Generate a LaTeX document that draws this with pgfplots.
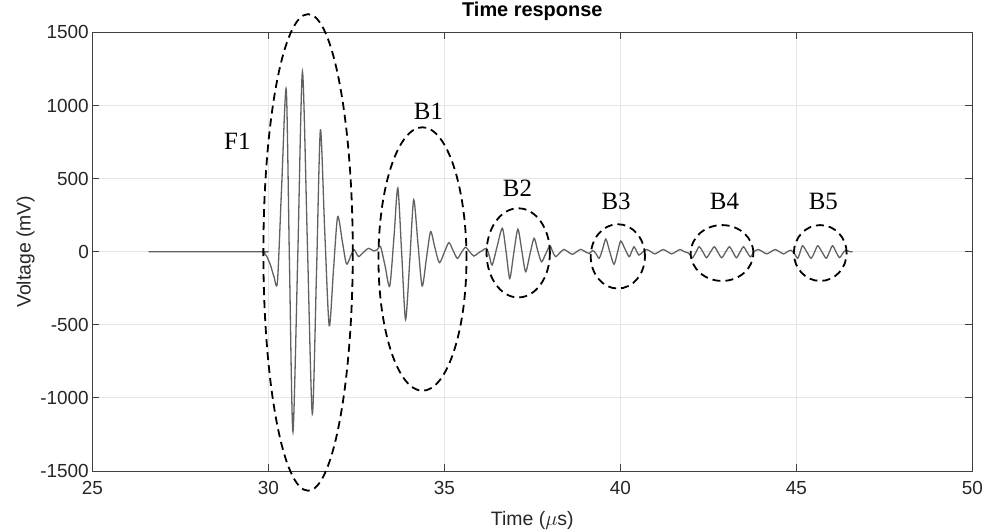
\documentclass[border=0pt]{standalone}
\usepackage{fontspec}
\setmainfont{Liberation Sans}
\newfontfamily\labfont{Liberation Serif}
\usepackage{pgfplots}
\pgfplotsset{compat=1.18}
\definecolor{axgray}{gray}{0.25}
\definecolor{gridgray}{gray}{0.90}
\definecolor{sig}{gray}{0.38}
\begin{document}
\begin{tikzpicture}
\path[use as bounding box] (0bp,0bp) rectangle (983bp,532bp);
\begin{axis}[
  at={(92.3bp,61bp)}, anchor=south west,
  width=880bp, height=438.6bp, scale only axis,
  xmin=25, xmax=50, ymin=-1500, ymax=1500,
  xtick={25,30,35,40,45,50},
  ytick={-1500,-1000,-500,0,500,1000,1500},
  /pgf/number format/assume math mode=true,
  /pgf/number format/1000 sep={},
  tick align=inside,
  major tick length=7bp,
  tick style={axgray, line width=0.8bp},
  axis line style={axgray, line width=0.9bp},
  grid=major,
  grid style={gridgray, line width=0.8bp},
  ticklabel style={font=\fontsize{19}{22}\selectfont, text=black!85},
  xticklabel style={yshift=-7bp},
  xlabel={Time ($\mu$s)},
  ylabel={Voltage (mV)},
  label style={font=\fontsize{19.5}{23}\selectfont, text=black!85},
  xlabel style={at={(axis description cs:0.5,-0.112)}, anchor=center},
  ylabel style={at={(axis description cs:-0.0759,0.5)}, anchor=center},
  title={Time response},
  title style={font=\bfseries\fontsize{20}{24}\selectfont, at={(axis description cs:0.5,1.022)}, anchor=base},
  clip=false,
]
\addplot[sig, line width=1.3bp, smooth, tension=0.45] coordinates {
(26.6,0) (29.80,0) (29.86,-5) (29.95,-30) (30.06,-90) (30.16,-170) (30.26,-205)
(30.38,450) (30.51,1111) (30.60,-60) (30.70,-1232) (30.84,0) (30.97,1232)
(31.11,60) (31.25,-1110) (31.37,-140) (31.48,833) (31.60,160) (31.73,-506)
(31.85,-130) (31.97,239) (32.10,75) (32.22,-84) (32.33,-35) (32.43,16)
(32.50,-10) (32.57,-34) (32.70,-5) (32.85,23) (33.00,5) (33.10,15) (33.19,34)
(33.32,-100) (33.45,-235) (33.57,100) (33.68,435) (33.79,-15) (33.90,-464)
(34.02,-55) (34.13,355) (34.25,60) (34.37,-235) (34.49,-50) (34.61,137)
(34.73,30) (34.86,-75) (35.00,-5) (35.13,62) (35.25,8) (35.37,-46) (35.48,-8)
(35.60,30) (35.72,0) (35.84,-30) (35.96,-10) (36.08,8) (36.20,23) (36.28,-30)
(36.36,-91) (36.50,35) (36.65,160) (36.76,-10) (36.86,-183) (36.97,-15)
(37.09,154) (37.20,10) (37.31,-137) (37.43,-20) (37.55,92) (37.65,10)
(37.76,-69) (37.88,-15) (38.00,39) (38.08,0) (38.16,-34) (38.28,-8) (38.40,16)
(38.52,-2) (38.64,-18) (38.76,0) (38.88,16) (39.00,0) (39.12,-12) (39.21,8)
(39.30,-10) (39.40,-45) (39.50,20) (39.59,87) (39.70,0) (39.82,-86) (39.92,-5)
(40.01,73) (40.13,20) (40.25,-34) (40.32,0) (40.39,34) (40.46,5) (40.53,-23)
(40.65,0) (40.75,15) (40.87,0) (40.98,-15) (41.10,0) (41.22,15) (41.34,0)
(41.46,-15) (41.58,0) (41.70,15) (41.82,0) (41.94,-10) (42.05,-41) (42.15,-3)
(42.24,34) (42.35,-3) (42.45,-41) (42.56,-3) (42.67,34) (42.77,-3) (42.88,-41)
(42.99,-3) (43.10,34) (43.20,-3) (43.30,-41) (43.40,-3) (43.50,34) (43.60,-3)
(43.70,-35) (43.80,0) (43.92,15) (44.04,0) (44.16,-15) (44.28,0) (44.40,15)
(44.52,0) (44.64,-15) (44.75,0) (44.85,10) (44.95,-15) (45.04,-45) (45.11,-2)
(45.18,41) (45.30,-2) (45.42,-45) (45.52,-2) (45.61,41) (45.73,-2) (45.85,-45)
(45.94,-2) (46.03,41) (46.13,-2) (46.23,-40) (46.35,0) (46.42,10) (46.52,0) (46.6,0)
};
\begin{scope}[black, line width=1.8bp, dash pattern=on 8bp off 5bp]
\draw (axis cs:31.13,-5) ellipse [x radius=1.27, y radius=1630];
\draw (axis cs:34.38,-50) ellipse [x radius=1.25, y radius=901];
\draw (axis cs:37.10,-8) ellipse [x radius=0.90, y radius=305];
\draw (axis cs:39.93,-32) ellipse [x radius=0.77, y radius=220];
\draw (axis cs:42.89,-9) ellipse [x radius=0.89, y radius=191];
\draw (axis cs:45.68,-9) ellipse [x radius=0.75, y radius=191];
\end{scope}
\begin{scope}[every node/.style={font=\labfont\fontsize{25}{28}\selectfont, inner sep=0pt, anchor=center}]
\node at (axis cs:29.12,757) {F1};
\node at (axis cs:34.55,962) {B1};
\node at (axis cs:37.08,434) {B2};
\node at (axis cs:39.88,346) {B3};
\node at (axis cs:42.96,346) {B4};
\node at (axis cs:45.77,346) {B5};
\end{scope}
\end{axis}
\end{tikzpicture}
\end{document}
